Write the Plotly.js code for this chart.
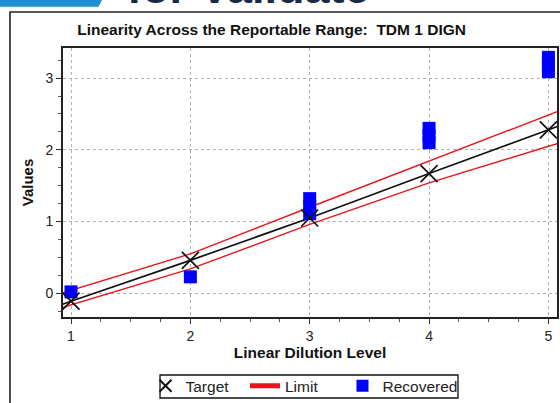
<!DOCTYPE html>
<html>
<head>
<meta charset="utf-8">
<script src="https://cdn.plot.ly/plotly-3.0.1.min.js"></script>
<style>html,body{margin:0;padding:0;background:#fff;}#chart{width:560px;height:403px;}</style>
</head>
<body>
<div id="chart"></div>
<script>
// ---- data ----
var levels = [1, 2, 3, 4, 5];
var targetValues = [-0.11, 0.46, 1.05, 1.67, 2.28];

var lineX = [0.9, 1, 2, 3, 4, 5, 5.1];
var targetLine = [-0.17, -0.11, 0.46, 1.05, 1.67, 2.28, 2.34];
var upperLimit = [-0.01, 0.04, 0.55, 1.2, 1.84, 2.49, 2.55];
var lowerLimit = [-0.21, -0.16, 0.34, 0.96, 1.54, 2.05, 2.1];

var recoveredX = [1, 2, 3, 3, 3, 4, 4, 4, 5, 5, 5];
var recoveredY = [0.02, 0.23, 1.11, 1.21, 1.32, 2.1, 2.2, 2.3, 3.09, 3.19, 3.29];

var xTicks = [1, 2, 3, 4, 5];
var yTicks = [0, 1, 2, 3];

var chartTitle = 'Linearity Across the Reportable Range:  TDM 1 DIGN';
var xTitle = 'Linear Dilution Level';
var yTitle = 'Values';
var bannerText = 'for Validate';

var FONT = 'Liberation Sans, Arial, sans-serif';

var traces = [
  {x: lineX, y: targetLine, mode: 'lines', line: {color: '#111', width: 1.7}, showlegend: false, hoverinfo: 'skip'},
  {x: lineX, y: upperLimit, mode: 'lines', name: 'Limit', legend: 'legend2', legendgroup: 'lim', line: {color: '#e8161b', width: 1.4}},
  {x: lineX, y: lowerLimit, mode: 'lines', name: 'Limit', legend: 'legend2', legendgroup: 'lim', showlegend: false, line: {color: '#e8161b', width: 1.4}},
  {x: recoveredX, y: recoveredY, mode: 'markers', name: 'Recovered', legend: 'legend3',
   marker: {symbol: 'square', size: 13, color: '#0000ff', line: {width: 0}}},
  {x: levels, y: targetValues, mode: 'markers', name: 'Target', legend: 'legend',
   marker: {symbol: 'x-thin', size: 17, color: '#111', line: {color: '#111', width: 1.7}}}
];

function legendAt(px) {
  return {
    orientation: 'h', x: (px - 63) / 494, xanchor: 'left', y: -0.194, yanchor: 'top',
    bgcolor: 'rgba(0,0,0,0)', borderwidth: 0,
    font: {family: FONT, size: 15.5, color: '#222'},
    itemwidth: 30, itemsizing: 'constant'
  };
}

var layout = {
  width: 560, height: 403,
  margin: {l: 63, r: 3, t: 48, b: 86, pad: 0, autoexpand: false},
  paper_bgcolor: '#fff', plot_bgcolor: '#fff',
  font: {family: FONT, size: 14, color: '#222'},
  title: {text: '<b>' + chartTitle + '</b>', font: {family: FONT, size: 15.5, color: '#111'},
          x: 0.485, xanchor: 'center', y: 0.926, yanchor: 'middle', xref: 'container', yref: 'container'},
  xaxis: {
    range: [0.933, 5.072], tickvals: xTicks, ticks: 'outside', ticklen: 5, tickwidth: 1, tickcolor: '#333',
    showline: true, linecolor: '#222', linewidth: 2, mirror: true, automargin: false,
    showgrid: true, gridcolor: '#b0b0b0', griddash: 'dot', gridwidth: 1, zeroline: false,
    minor: {dtick: 0.25, ticks: 'outside', ticklen: 3, tickcolor: '#555', showgrid: false},
    tickfont: {family: FONT, size: 14, color: '#222'},
    title: {text: '<b>' + xTitle + '</b>', font: {family: FONT, size: 15.5, color: '#111'}, standoff: 4}
  },
  yaxis: {
    range: [-0.33, 3.42], tickvals: yTicks, ticks: 'outside', ticklen: 5, tickwidth: 1, tickcolor: '#333',
    showline: true, linecolor: '#222', linewidth: 2, mirror: true, automargin: false,
    showgrid: true, gridcolor: '#b0b0b0', griddash: 'dot', gridwidth: 1, zeroline: false,
    minor: {dtick: 0.25, ticks: 'outside', ticklen: 3, tickcolor: '#555', showgrid: false},
    tickfont: {family: FONT, size: 14, color: '#222'},
    title: {text: '<b>' + yTitle + '</b>', font: {family: FONT, size: 15, color: '#111'}, standoff: 8}
  },
  legend: legendAt(145.5),
  legend2: legendAt(245),
  legend3: legendAt(342.5),
  shapes: [
    {type: 'rect', xref: 'paper', yref: 'paper', x0: -0.1073, x1: 1.2, y0: -0.5, y1: 1.134,
     line: {color: '#222', width: 1.6}, fillcolor: 'rgba(0,0,0,0)', layer: 'below'},
    {type: 'rect', xref: 'paper', yref: 'paper', x0: 0.1964, x1: 0.7996, y0: -0.3011, y1: -0.2156,
     line: {color: '#111', width: 1.3}, fillcolor: 'rgba(0,0,0,0)', layer: 'below'},
    {type: 'path', xref: 'paper', yref: 'paper',
     path: 'M -0.14 1.2 L 0.085 1.2 L 0.072 1.153 L -0.14 1.153 Z',
     fillcolor: '#1f8fd3', line: {width: 0}}
  ],
  annotations: [
    {xref: 'paper', yref: 'paper', x: 0.126, y: 1.124, xanchor: 'left', yanchor: 'bottom',
     text: '<b>' + bannerText + '</b>', showarrow: false,
     font: {family: FONT, size: 45, color: '#1a2a44'}}
  ]
};

Plotly.newPlot('chart', traces, layout, {displayModeBar: false, staticPlot: true});
</script>
</body>
</html>
